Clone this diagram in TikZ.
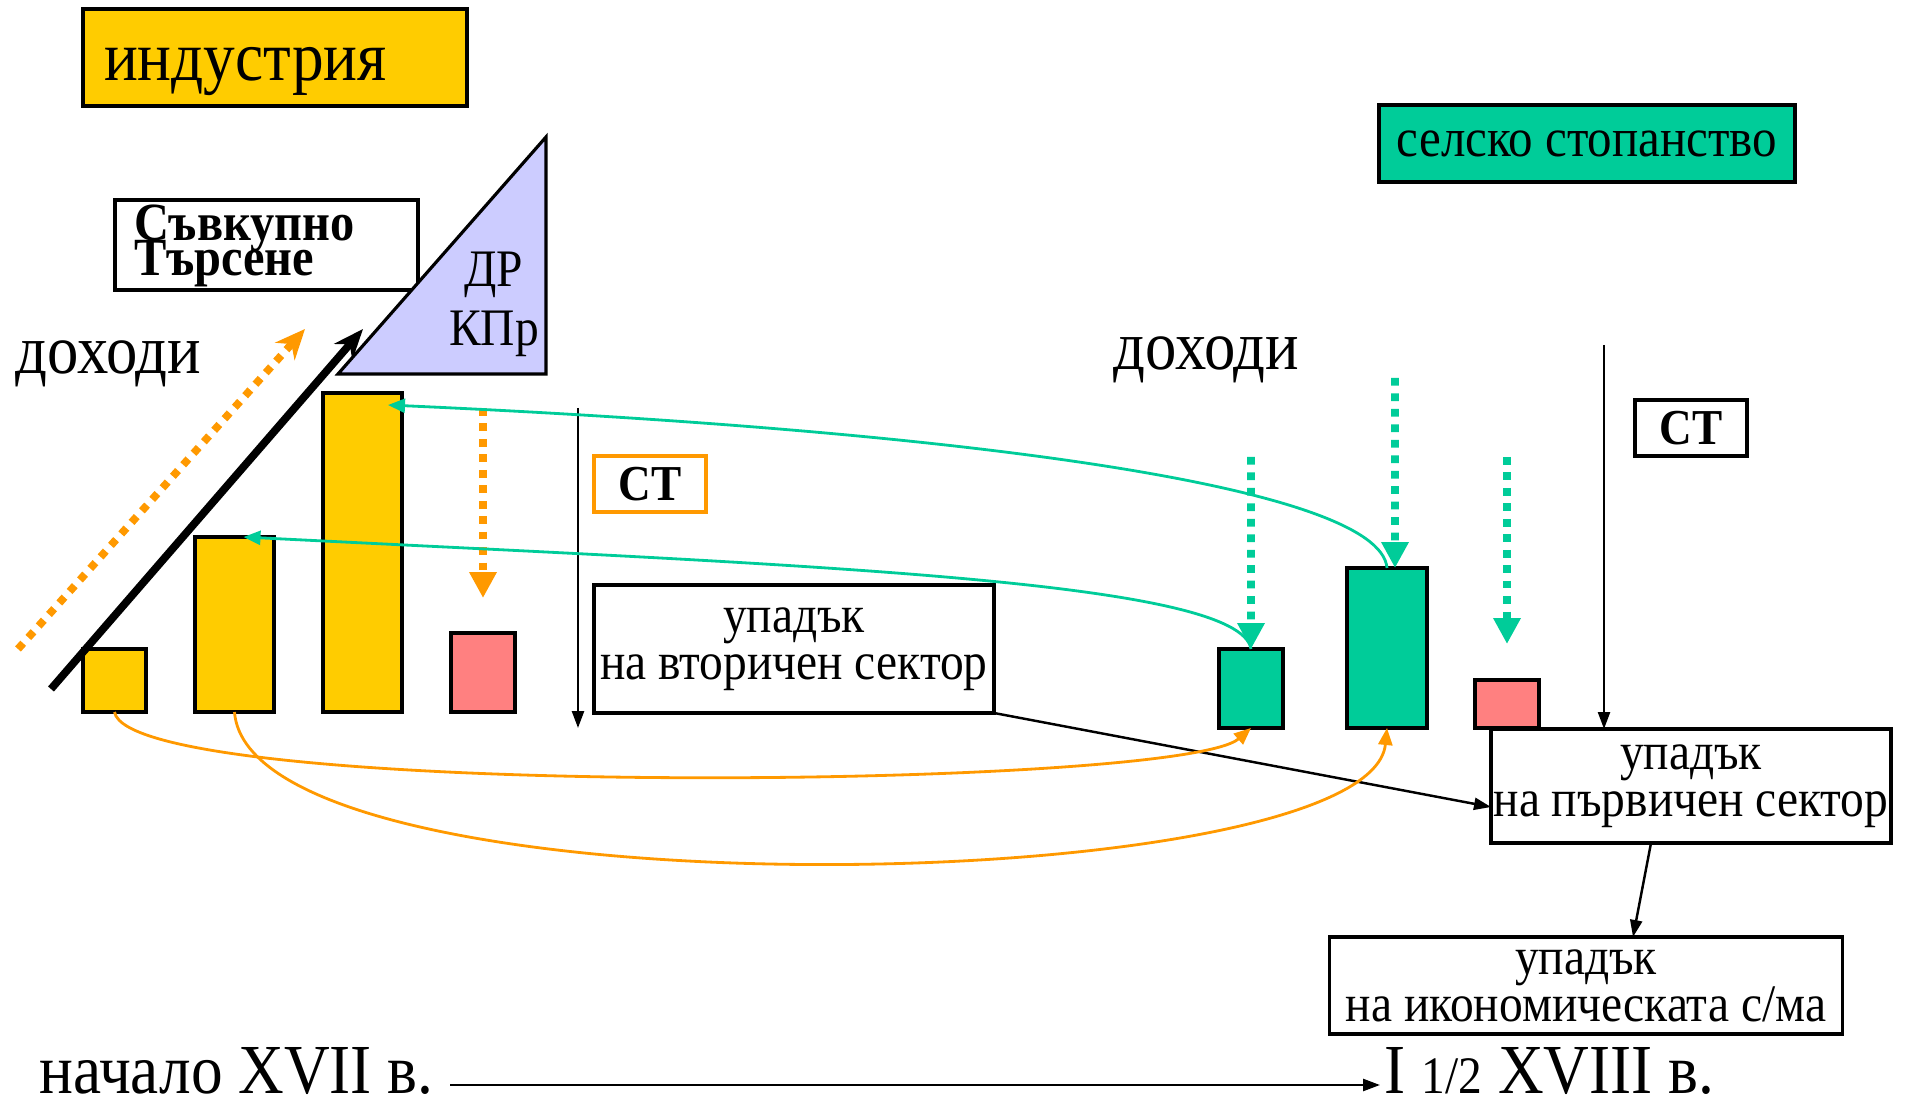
\documentclass[tikz,border=0pt]{standalone}
\usepackage{fontspec}
\setmainfont{Liberation Serif}[FakeStretch=0.9]
\usetikzlibrary{arrows.meta}
\definecolor{indyellow}{HTML}{FFCC00}
\definecolor{agrgreen}{HTML}{00CC99}
\definecolor{losspink}{HTML}{FF8080}
\definecolor{flowor}{HTML}{FF9900}
\definecolor{demlav}{HTML}{CCCCFF}
\protected\def\tightlines{\lineskiplimit=-20pt\relax}
\tikzset{
  sbox/.style={draw, line width=0.9pt, inner sep=0pt, outer sep=0pt},
  bar/.style={sbox, anchor=south west},
  flowarr/.style={line width=0.8pt, -{Triangle[length=1.7mm,width=1.4mm]}},
  thinarr/.style={line width=0.7pt, -{Triangle[length=1.7mm,width=1.2mm]}},
  dotarr/.style={line width=2.2pt, dash pattern=on 2.2pt off 2.2pt, -{Triangle[length=2.6mm,width=2.6mm]}},
  bigtxt/.style={font=\fontsize{20}{22}\selectfont},
  midtxt/.style={font=\fontsize{15}{13.4}\selectfont, align=center},
}
\begin{document}
\begin{tikzpicture}[x=0.1mm,y=-0.1mm]
\useasboundingbox (0,0) rectangle (1912,1108);
% titres
\node (ind) at (83,9) [sbox, anchor=north west, fill=indyellow, minimum width=38.4mm, minimum height=9.7mm,
  text width=34.2mm, text height=6.2mm, inner xsep=2.1mm, align=left, bigtxt] {индустрия};
\node (agr) at (1587,143.5) [sbox, fill=agrgreen, minimum width=41.6mm, minimum height=7.7mm,
  font=\fontsize{15.5}{17}\selectfont] {селско стопанство};
\node (dem) at (115,200) [sbox, anchor=north west, minimum width=30.3mm, minimum height=9mm,
  text width=26.5mm, text depth=4.4mm, inner xsep=1.9mm, align=left,
  font=\bfseries\fontsize{15.3}{10}\selectfont\tightlines] {Съвкупно\\Търсене};
\draw [line width=0.9pt, fill=demlav] (546,137) -- (546,374) -- (338,374) -- cycle;
\node (dr) at (494,304) [align=center, font=\fontsize{15}{16.8}\selectfont] {ДР\\КПр};
\node (inc1) at (15,364) [anchor=west, inner sep=0pt, font=\fontsize{19.8}{21}\selectfont] {доходи};
\node (inc2) at (1113,360) [anchor=west, inner sep=0pt, font=\fontsize{19.8}{21}\selectfont] {доходи};
% barres
\node (ind1) at (83,712) [bar, fill=indyellow, minimum width=6.3mm, minimum height=6.3mm] {};
\node (ind2) at (195,712) [bar, fill=indyellow, minimum width=7.9mm, minimum height=17.5mm] {};
\node (ind3) at (323,712) [bar, fill=indyellow, minimum width=7.9mm, minimum height=31.9mm] {};
\node (indr) at (451,712) [bar, fill=losspink, minimum width=6.4mm, minimum height=7.9mm] {};
\node (agr1) at (1219,728) [bar, fill=agrgreen, minimum width=6.4mm, minimum height=7.9mm] {};
\node (agr2) at (1347,728) [bar, fill=agrgreen, minimum width=8mm, minimum height=16mm] {};
\node (agrr) at (1475,728) [bar, fill=losspink, minimum width=6.4mm, minimum height=4.8mm] {};
% cadres
\node (st1) at (650,484) [sbox, draw=flowor, minimum width=11.2mm, minimum height=5.6mm,
  font=\bfseries\fontsize{14.3}{15}\selectfont] {СТ};
\node (st2) at (1691,428) [sbox, minimum width=11.2mm, minimum height=5.6mm,
  font=\bfseries\fontsize{14.3}{15}\selectfont] {СТ};
\node (dec2) at (794,649) [sbox, minimum width=40mm, minimum height=12.8mm, midtxt] {упадък\\ на вторичен сектор};
\node (dec1) at (1691,786) [sbox, minimum width=40mm, minimum height=11.4mm, midtxt] {упадък\\на първичен сектор};
\node (dece) at (1586,985.5) [sbox, minimum width=51.3mm, minimum height=9.7mm, midtxt] {упадък\\ на икономическата с/ма};
% flèches
\coordinate (o1) at (18,649);
\coordinate (o2) at (305,329);
\coordinate (b1) at (51,689);
\coordinate (b2) at (363,329);
\coordinate (od1) at (483,408);
\coordinate (od2) at (483,598);
\coordinate (v1) at (578,408);
\coordinate (v2) at (578,728);
\coordinate (g1) at (1251,457);
\coordinate (g2) at (1395,378);
\coordinate (g3) at (1507,457);
\coordinate (g4) at (1507,644);
\coordinate (v3) at (1604,345);
\draw [dotarr, color=flowor, -{Stealth[length=3mm,width=2.6mm]}] (o1) -- (o2);
\draw [line width=2.2pt, -{Stealth[length=3mm,width=2.4mm]}] (b1) -- (b2);
\draw [dotarr, color=flowor] (od1) -- (od2);
\draw [thinarr] (v1) -- (v2);
\draw [dotarr, color=agrgreen] (g1) -- (agr1.north);
\draw [dotarr, color=agrgreen] (g2) -- ([xshift=0.8mm]agr2.north);
\draw [dotarr, color=agrgreen] (g3) -- (g4);
\draw [thinarr] (v3) -- (v3 |- dec1.north);
\draw [thinarr] (dec2.south east) -- ([yshift=-2.1mm]dec1.west);
\draw [thinarr] ([xshift=-4mm]dec1.south) -- ([xshift=4.7mm]dece.north);
% courbes
\draw [flowarr, color=agrgreen] (agr2.north) .. controls (1380,485) and (950,430) .. ([xshift=-1.4mm,yshift=-1.2mm]ind3.north east);
\draw [flowarr, color=agrgreen] (agr1.north) .. controls (1240,580) and (800,565) .. ([xshift=0.9mm]ind2.north);
\draw [flowarr, color=flowor] (ind1.south) .. controls (130,800) and (1180,790) .. (agr1.south);
\draw [flowarr, color=flowor] (ind2.south) .. controls (250,920) and (1370,900) .. (agr2.south);
% période
\node (t0) at (39,1093) [anchor=base west, inner sep=0pt, bigtxt] {начало XVII в.};
\node (t1) at (1384,1093) [anchor=base west, inner sep=0pt, bigtxt] {I {\fontsize{15}{16}\selectfont 1/2} XVIII в.};
\draw [thinarr] ([xshift=1.6mm,yshift=0.8mm]t0.base east) -- ([xshift=-0.4mm,yshift=0.8mm]t1.base west);
\end{tikzpicture}
\end{document}
